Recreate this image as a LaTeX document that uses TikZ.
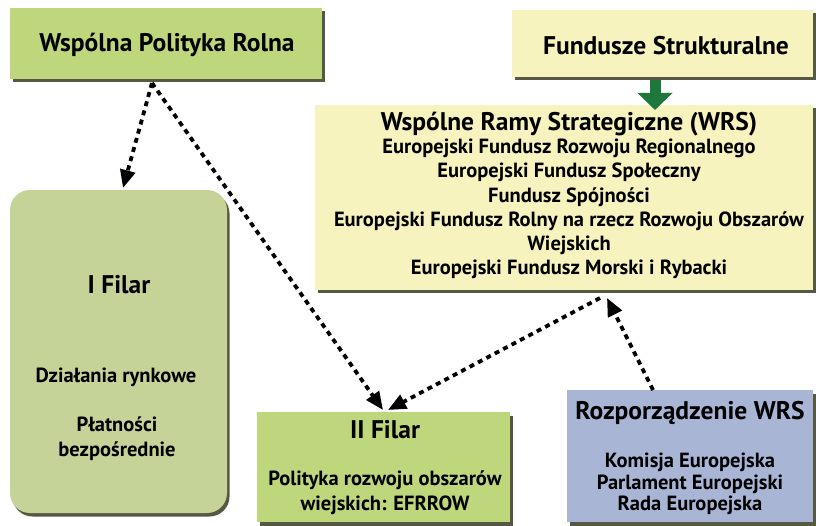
\documentclass[tikz,border=0pt]{standalone}
\usepackage{fontspec}
\setmainfont{PT Sans}
\usetikzlibrary{arrows.meta,shadows,calc}
\definecolor{leaf}{RGB}{190,215,124}
\definecolor{sage}{RGB}{197,211,153}
\definecolor{cream}{RGB}{246,243,190}
\definecolor{slate}{RGB}{168,181,213}
\definecolor{pine}{RGB}{30,120,60}
\definecolor{shade}{RGB}{68,70,48}

\begin{document}
\begin{tikzpicture}[x=1pt,y=-1pt,
  panel/.style={draw=none, inner sep=0pt, outer sep=0pt, anchor=north west,
    drop shadow={shadow xshift=2.5pt, shadow yshift=-3.5pt, fill=shade, opacity=0.9}},
  headtxt/.style={inner sep=0pt, align=center, text=black,
    font=\bfseries\fontsize{25.5}{28}\selectfont},
  bodytxt/.style={inner sep=0pt, align=center, text=black,
    font=\bfseries\fontsize{20.5}{24.2}\selectfont},
  link/.style={line width=3.8pt, dash pattern=on 5pt off 4.5pt,
    -{Triangle[length=18pt,width=15pt]}},
]
\useasboundingbox (0,0) rectangle (816,526);

% boxes
\node[panel, fill=leaf,  minimum width=312pt, minimum height=71pt]  (wpr)  at (10,8) {};
\node[panel, fill=cream, minimum width=301pt, minimum height=67pt]  (fs)   at (512,10) {};
\node[panel, fill=cream, minimum width=498pt, minimum height=185pt] (wrs)  at (315,105) {};
\node[panel, fill=sage,  minimum width=217pt, minimum height=323pt, rounded corners=20pt] (f1) at (10,190) {};
\node[panel, fill=leaf,  minimum width=253pt, minimum height=110pt] (f2)   at (257,412) {};
\node[panel, fill=slate, minimum width=246pt, minimum height=132pt] (rozp) at (567,390) {};

% texts
\node[headtxt] (wprT) at (167,45) {Wspólna Polityka Rolna};
\node[headtxt] (fsT)  at (666,46) {Fundusze Strukturalne};
\node[headtxt] (wrsT) at (569,124) {Wspólne Ramy Strategiczne (WRS)};
\node[bodytxt] (wrsB) at (569,209) {Europejski Fundusz Rozwoju Regionalnego\\
  Europejski Fundusz Społeczny\\ Fundusz Spójności\\
  Europejski Fundusz Rolny na rzecz Rozwoju Obszarów\\ Wiejskich\\
  Europejski Fundusz Morski i Rybacki};
\node[headtxt] (f1T)  at (119,285) {I Filar};
\node[bodytxt] (f1A)  at (116,377) {Działania rynkowe};
\node[bodytxt, font=\bfseries\fontsize{20.5}{25}\selectfont] (f1B) at (117,439) {Płatności\\ bezpośrednie};
\node[headtxt] (f2T)  at (385,430) {II Filar};
\node[bodytxt, font=\bfseries\fontsize{20.5}{25}\selectfont] (f2B) at (385,493) {Polityka rozwoju obszarów\\ wiejskich: EFRROW};
\node[headtxt] (rozpT) at (690,413) {Rozporządzenie WRS};
\node[bodytxt, font=\bfseries\fontsize{20.5}{21.5}\selectfont] (rozpB) at (690,484) {Komisja Europejska\\ Parlament Europejski\\ Rada Europejska};

% connector end points
\coordinate (wprFoot)  at ($(wpr.south west)+(142,4)$);
\coordinate (f1Top)    at ($(f1.north west)+(113,-2)$);
\coordinate (f2TopL)   at ($(f2.north west)+(126,-2)$);
\coordinate (f2TopR)   at ($(f2.north west)+(131,-2)$);
\coordinate (wrsFoot)  at ($(wrs.south west)+(285,8)$);
\coordinate (wrsFootR) at ($(wrs.south west)+(292,8)$);
\coordinate (rozpTop)  at ($(rozp.north west)+(86,0)$);
\coordinate (fsFoot)   at ($(fs.south west)+(143,3)$);
\coordinate (wrsTop)   at ($(wrs.north west)+(340,5)$);

% connectors
\draw[link] (wprFoot) -- (f1Top);
\draw[link] (wprFoot) -- (f2TopL);
\draw[link] (wrsFoot) -- (f2TopR);
\draw[link] (rozpTop) -- (wrsFootR);
\draw[pine, line width=11pt, -{Triangle[length=17pt,width=34pt]}] (fsFoot) -- (wrsTop);
\end{tikzpicture}
\end{document}
